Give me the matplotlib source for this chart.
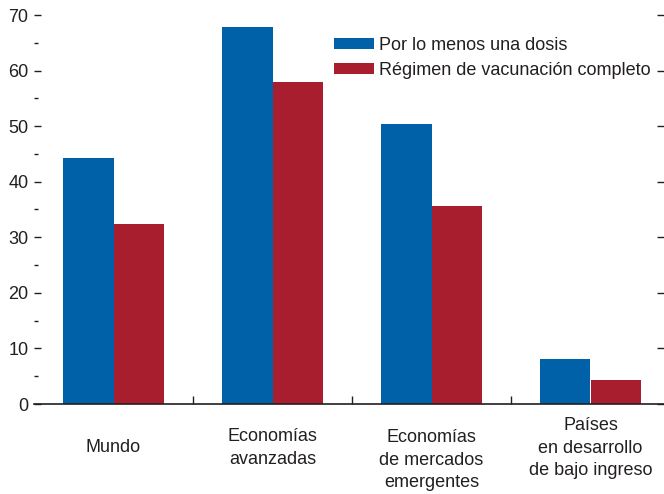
import matplotlib
matplotlib.use("Agg")
import matplotlib.pyplot as plt
import numpy as np
from matplotlib.ticker import MultipleLocator

plt.rcParams['font.family'] = ['Liberation Sans Narrow', 'Liberation Sans', 'DejaVu Sans']

# datos
categorias = ["Mundo", "Economías\navanzadas", "Economías\nde mercados\nemergentes",
              "Países\nen desarrollo\nde bajo ingreso"]
una_dosis = [44.3, 67.9, 50.4, 8.1]
completo = [32.4, 58.0, 35.6, 4.3]
serie_labels = ["Por lo menos una dosis", "Régimen de vacunación completo"]

azul = '#0061A9'
rojo = '#A91E2F'
txt = '#231F20'

W, H = 664, 494
fig = plt.figure(figsize=(W / 100, H / 100), dpi=100)
ax = fig.add_axes([34 / W, (H - 404) / H, (664 - 34) / W, (404 - 15) / H])

x = np.arange(len(categorias))
bw = 0.32
b1 = ax.bar(x - bw / 2, una_dosis, bw, color=azul, linewidth=0, label=serie_labels[0])
b2 = ax.bar(x + bw / 2, completo, bw, color=rojo, linewidth=0, label=serie_labels[1])

ax.set_xlim(-0.5, -0.5 + 630 / 159)
ax.set_ylim(0, 70)

for s in ['left', 'right', 'top']:
    ax.spines[s].set_visible(False)
ax.spines['bottom'].set_linewidth(1.2)
ax.spines['bottom'].set_color(txt)

ax.yaxis.set_major_locator(MultipleLocator(10))
ax.yaxis.set_minor_locator(MultipleLocator(5))
ax.tick_params(axis='y', which='major', direction='in', length=5, width=1,
               labelsize=13, colors=txt, pad=4, right=True, labelright=False)
ax.tick_params(axis='y', which='minor', direction='in', length=3, width=1,
               colors=txt, right=False)

ax.set_xticks(x[:-1] + 0.5)
ax.set_xticklabels([])
ax.tick_params(axis='x', which='major', direction='in', length=6, width=1, colors=txt)

# etiquetas de categorías
label_px = [43, 44, 56, 44]
for xi, lab, off in zip(x, categorias, label_px):
    ax.text(xi, -off / 389, lab, transform=ax.get_xaxis_transform(),
            ha='center', va='center', fontsize=13, color=txt, linespacing=1.42)

leg = ax.legend(loc='upper left', bbox_to_anchor=(334 / W, 1 - 37 / H),
                bbox_transform=fig.transFigure, frameon=False, fontsize=13,
                handlelength=2.2, handleheight=0.55, handletextpad=0.3,
                labelspacing=0.42, borderpad=0, borderaxespad=0)
for t in leg.get_texts():
    t.set_color(txt)

fig.savefig("out.png", dpi=100)
